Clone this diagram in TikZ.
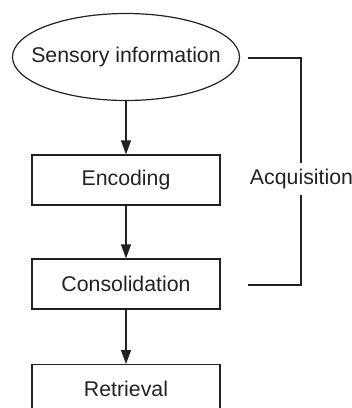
\documentclass[tikz,border=0pt]{standalone}
\usepackage{fontspec}
\setmainfont{Liberation Sans}
\usetikzlibrary{shapes.geometric,arrows.meta}
\definecolor{ink}{HTML}{222222}
\begin{document}
\begin{tikzpicture}[x=1pt,y=-1pt,
  every node/.style={font=\fontsize{21.3}{25}\selectfont, text=ink},
  stagebox/.style={draw=ink, line width=1.2pt, rectangle, minimum width=188pt, minimum height=50pt, inner sep=0pt},
  flow/.style={draw=ink, line width=1.2pt, -{Triangle[length=14pt,width=10pt]}},
  brace/.style={draw=ink, line width=1.2pt}]
\useasboundingbox (0,0) rectangle (352,408);
\clip (0,0) rectangle (352,408);
\node[draw=ink, line width=1.2pt, ellipse, minimum width=227pt, minimum height=87pt, inner sep=0pt] (sens) at (126,57) {\makebox[0pt]{Sensory information}};
\node[stagebox] (enc) at (126,180) {Encoding};
\node[stagebox] (cons) at (126,284) {Consolidation};
\node[stagebox, minimum height=70pt, anchor=north] (ret) at (126,364) {};
\node (rettext) at (126,389) {Retrieval};
\node[inner sep=0pt, minimum height=32pt] (acq) at (301.5,179) {Acquisition};
\coordinate (t1) at (248,58);
\coordinate (t2) at (301,58);
\coordinate (b1) at (248,285);
\coordinate (b2) at (301,285);
\draw[flow] (sens) -- (enc);
\draw[flow] (enc) -- (cons);
\draw[flow] (cons) -- (ret);
\draw[brace] (t1) -- (t2) -- (t2 |- acq.north);
\draw[brace] (t2 |- acq.south) -- (b2) -- (b1);
\end{tikzpicture}
\end{document}
